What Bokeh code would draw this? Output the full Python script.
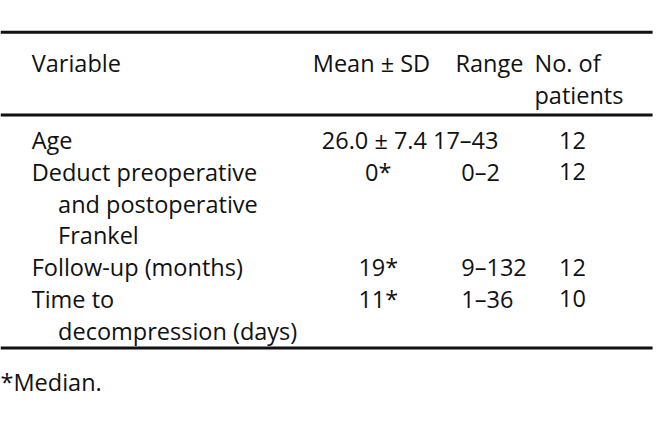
from bokeh.plotting import figure
from bokeh.models import Range1d, ColumnDataSource
from bokeh.core.properties import value
from bokeh.embed import file_html
from bokeh.resources import INLINE

# ---- table content ----
header_labels = ["Variable", "Mean \u00b1 SD", "Range", "No. of\npatients"]
variable_lines = [
    ["Age"],
    ["Deduct preoperative", "and postoperative", "Frankel"],
    ["Follow-up (months)"],
    ["Time to", "decompression (days)"],
]
means = ["26.0 \u00b1 7.4", "0*", "19*", "11*"]
ranges = ["17\u201343", "0\u20132", "9\u2013132", "1\u201336"]
n_patients = [12, 12, 12, 10]
footnote = "*Median."

# ---- layout (coordinates in the reference's 672x427 pixel frame) ----
W, H = 656, 411
FONT = value("Open Sans")
SIZE = "23.5px"
COLOR = "#111111"
LINE_H = 33

p = figure(width=W, height=H, output_backend="svg", toolbar_location=None,
           x_range=Range1d(0, 672), y_range=Range1d(427, 0),
           min_border=0, outline_line_color=None)
p.axis.visible = False
p.grid.visible = False
p.background_fill_color = "white"
p.border_fill_color = "white"

# rules
p.segment(x0=[0, 0, 0], x1=[668, 668, 668], y0=[33, 119, 361], y1=[33, 119, 361],
          line_color="#111111", line_width=3)

def put(xs, ys, texts, align="left"):
    src = ColumnDataSource(dict(x=xs, y=ys, t=texts))
    p.text(x="x", y="y", text="t", source=src, text_font=FONT,
           text_font_size=SIZE, text_color=COLOR, text_align=align,
           text_baseline="alphabetic")

# header
hdr_y = 65
put([32], [hdr_y], [header_labels[0]])
put([380], [hdr_y], [header_labels[1]], align="center")
put([466], [hdr_y], [header_labels[2]])
no_lines = header_labels[3].split("\n")
put([547] * len(no_lines), [hdr_y + LINE_H * i for i in range(len(no_lines))], no_lines)

# body
base_y = 145
vx, vy, vt = [], [], []
mx, my, mt = [], [], []
rx, ry, rt = [], [], []
nx, ny, nt = [], [], []
line_idx = 0
for i, lines in enumerate(variable_lines):
    y0 = base_y + LINE_H * line_idx
    for j, ln in enumerate(lines):
        vx.append(32 if j == 0 else 59)
        vy.append(y0 + LINE_H * j)
        vt.append(ln)
    mx.append(383 if i == 0 else 387)
    my.append(y0)
    mt.append(means[i])
    rx.append(443 if i == 0 else 472)
    ry.append(y0)
    rt.append(ranges[i])
    nx.append(586)
    ny.append(y0)
    nt.append(str(n_patients[i]))
    line_idx += len(lines)

put(vx, vy, vt)
put(mx, my, mt, align="center")
put(rx, ry, rt)
put(nx, ny, nt, align="center")

# footnote
put([0], [396], [footnote])

open("out.html", "w").write(file_html(p, INLINE))
